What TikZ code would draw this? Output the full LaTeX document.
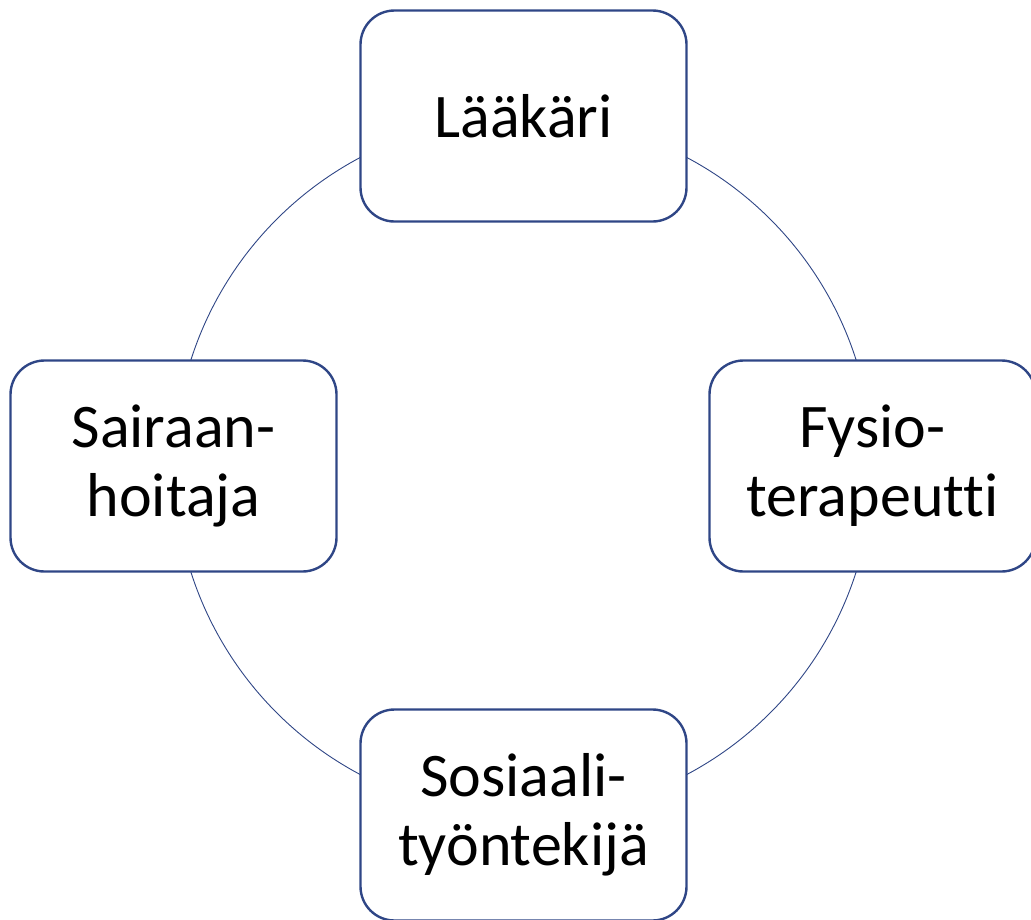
\documentclass[tikz,border=0pt]{standalone}
\usepackage{fontspec}
\setmainfont[Ligatures={NoCommon}]{Carlito}
\definecolor{ringblue}{RGB}{47,70,134}
\begin{document}
\begin{tikzpicture}[x=1pt,y=-1pt,
  role/.style={draw=ringblue, line width=2.4pt, fill=white, rounded corners=34pt,
    minimum width=326pt, minimum height=211pt, align=center,
    font=\fontsize{62}{69}\selectfont, inner sep=0pt},
  ring/.style={draw=ringblue, line width=0.9pt}]
  \useasboundingbox (0,0) rectangle (1031,919);
  \clip (0,0) rectangle (1031,919);
  \coordinate (c) at (523.5,466);
  \draw[ring] (c) circle[radius=349];
  \node[role] (top) at (523.5,116) {Lääkäri};
  \node[role] (right) at (872.5,466) {Fysio-\\terapeutti};
  \node[role] (bottom) at (523.5,815) {Sosiaali-\\työntekijä};
  \node[role] (left) at (173.5,466) {Sairaan-\\hoitaja};
\end{tikzpicture}
\end{document}
